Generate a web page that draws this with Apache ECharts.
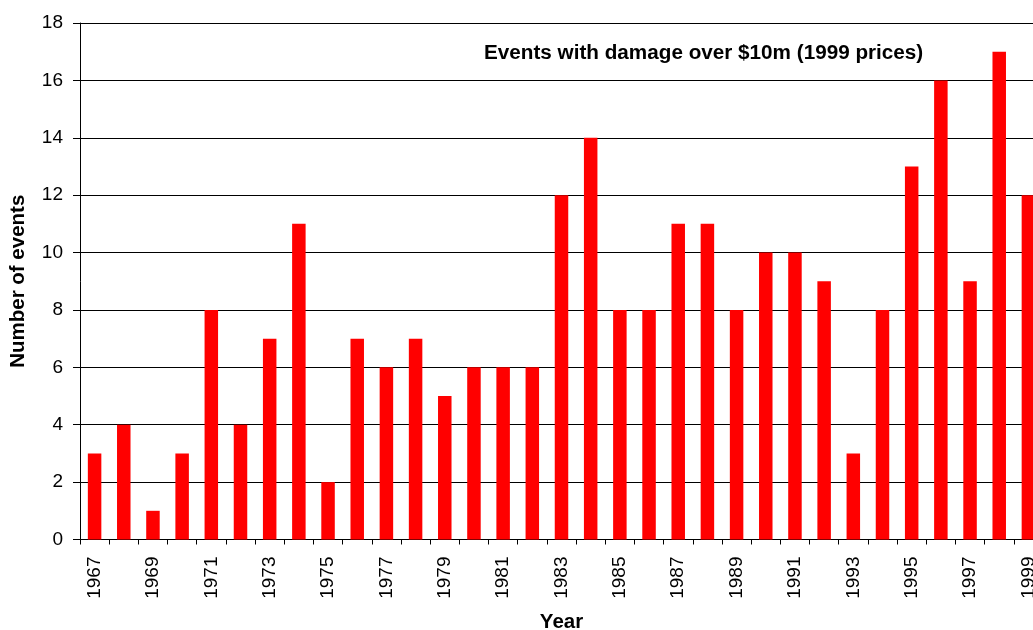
<!DOCTYPE html>
<html>
<head>
<meta charset="utf-8">
<script src="https://cdn.jsdelivr.net/npm/echarts@6/dist/echarts.min.js"></script>
<style>html,body{margin:0;padding:0;background:#fff;}#c{width:1033px;height:630px;}</style>
</head>
<body>
<div id="c"></div>
<script>
const years = ['1967','1968','1969','1970','1971','1972','1973','1974','1975','1976','1977','1978','1979','1980','1981','1982','1983','1984','1985','1986','1987','1988','1989','1990','1991','1992','1993','1994','1995','1996','1997','1998','1999'];
const events = [3,4,1,3,8,4,7,11,2,7,6,7,5,6,6,6,12,14,8,8,11,11,8,10,10,9,3,8,13,16,9,17,12];
const yTicks = {min:0, max:18, interval:2};
const noteText = 'Events with damage over $10m (1999 prices)';
const FONT = '"Liberation Sans", Arial, sans-serif';

const chart = echarts.init(document.getElementById('c'), null, {renderer:'canvas'});
chart.setOption({
  animation:false,
  backgroundColor:'#ffffff',
  textStyle:{fontFamily:FONT},
  grid:{left:80, top:23, width:963, bottom:90.5, containLabel:false, outerBoundsMode:'none'},
  graphic:[{
    type:'text', left:484, top:43,
    style:{text:noteText, font:'bold 20.7px '+FONT, fill:'#000'}
  }],
  xAxis:{
    type:'category', data:years,
    name:'Year', nameLocation:'middle', nameGap:72,
    nameTextStyle:{fontFamily:FONT, fontSize:20.5, fontWeight:'bold', color:'#000'},
    axisLine:{lineStyle:{color:'#000', width:1}},
    axisTick:{show:true, interval:0, length:5, lineStyle:{color:'#000'}},
    axisLabel:{interval:1, rotate:90, margin:17, fontSize:19, color:'#000', fontFamily:FONT, hideOverlap:false},
    splitLine:{show:false}
  },
  yAxis:{
    type:'value', min:yTicks.min, max:yTicks.max, interval:yTicks.interval,
    name:'Number of events', nameLocation:'middle', nameGap:51, nameRotate:90,
    nameTextStyle:{fontFamily:FONT, fontSize:20.5, fontWeight:'bold', color:'#000'},
    axisLine:{show:true, lineStyle:{color:'#000', width:1}},
    axisTick:{show:true, length:7, lineStyle:{color:'#000'}},
    axisLabel:{margin:17, fontSize:19, color:'#000', fontFamily:FONT},
    splitLine:{show:true, lineStyle:{color:'#000', width:1}}
  },
  series:[{
    type:'bar', data:events, barWidth:13.5,
    itemStyle:{color:'#ff0000'}
  }]
});
</script>
</body>
</html>
